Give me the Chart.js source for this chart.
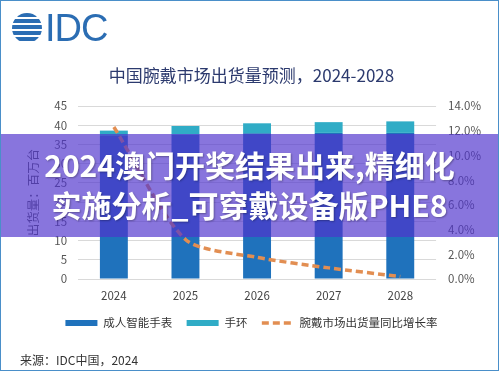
<!DOCTYPE html>
<html>
<head>
<meta charset="utf-8">
<script src="https://cdn.jsdelivr.net/npm/chart.js@4.4.1/dist/chart.umd.min.js"></script>
<style>
  html, body { margin: 0; padding: 0; background: #fff; }
  #wrap { position: relative; width: 499px; height: 371px; overflow: hidden; font-family: 'Noto Sans CJK SC', sans-serif; }
  #chartBox { position: absolute; left: 0; top: 0; width: 499px; height: 371px; }
  .globe { position: absolute; left: 12px; top: 13px; width: 30px; height: 30px; border-radius: 50%;
    background: repeating-linear-gradient(to bottom, #2b6db3 0px, #2b6db3 4px, #fff 4px, #fff 6px); }
  .idc { position: absolute; left: 45px; top: 9px; font: 38px/38px 'Liberation Sans', sans-serif; color: #2b6db3; letter-spacing: -1px; }
  .source { position: absolute; left: 20px; top: 351px; font-size: 12px; line-height: 18px; color: #333; }
  .band { position: absolute; left: 0; top: 134px; width: 499px; height: 103px; background: rgba(80, 52, 205, 0.68); }
  .band div { position: absolute; left: 0; width: 499px; text-align: center; color: #fff; font-weight: bold;
    font-size: 30px; line-height: 40px; text-shadow: 1px 1px 2px rgba(0,0,0,0.3); }
  .frame { position: absolute; left: 0; top: 0; width: 497px; height: 369px; border: 1px solid #4a8fc9; }
</style>
</head>
<body>
<div id="wrap">
  <div id="chartBox"><canvas id="myChart"></canvas></div>
  <div class="globe"></div>
  <div class="idc">IDC</div>
  <div class="source">来源：IDC中国，2024</div>
  <div class="band">
    <div style="top: 10px;">2024澳门开奖结果出来,精细化</div>
    <div style="top: 50px;">实施分析_可穿戴设备版PHE8</div>
  </div>
  <div class="frame"></div>
</div>
<script>
// years on the x axis
var years = ['2024', '2025', '2026', '2027', '2028'];
// shipments, million units
var watchValues = [37.2, 37.6, 37.9, 38.0, 38.0];
var bandValues = [1.4, 2.2, 2.6, 2.8, 3.0];
// yoy growth, %
var growthRates = [12.3, 3.2, 1.75, 0.9, 0.2];

var fontFamily = "'Noto Sans CJK SC', sans-serif";
var lineColor = 'rgb(226,142,82)';

function createChart() {
    var ctx = document.getElementById('myChart').getContext('2d');
    var myChart = new Chart(ctx, {
        type: 'bar',
        data: {
            labels: years,
            datasets: [{
                label: '成人智能手表',
                data: watchValues,
                backgroundColor: 'rgb(31,114,188)',
                barPercentage: 0.39,
                categoryPercentage: 1,
                order: 0
            }, {
                label: '手环',
                data: bandValues,
                backgroundColor: 'rgb(48,172,198)',
                barPercentage: 0.39,
                categoryPercentage: 1,
                order: 0
            }, {
                type: 'line',
                label: '腕戴市场出货量同比增长率',
                data: growthRates,
                yAxisID: 'y1',
                borderColor: lineColor,
                borderWidth: 3.5,
                borderDash: [7, 4],
                pointRadius: 0,
                tension: 0.25,
                fill: false,
                order: -1
            }]
        },
        options: {
            responsive: true,
            maintainAspectRatio: false,
            animation: false,
            layout: { padding: { left: 10, right: 6, top: 0, bottom: 32.25 } },
            plugins: {
                tooltip: { enabled: false },
                title: {
                    display: true,
                    text: '中国腕戴市场出货量预测，2024-2028',
                    color: '#2c3a6e',
                    font: { family: fontFamily, size: 17, weight: 'normal' },
                    padding: { top: 65.3, bottom: 20.3 }
                },
                legend: {
                    position: 'bottom',
                    labels: {
                        usePointStyle: true,
                        pointStyleWidth: 32,
                        boxHeight: 6,
                        padding: 14.45,
                        color: '#333',
                        font: { family: fontFamily, size: 11.5 },
                        generateLabels: function (chart) {
                            var items = Chart.defaults.plugins.legend.labels.generateLabels(chart);
                            items.forEach(function (it) {
                                if (it.datasetIndex === 2) {
                                    it.pointStyle = 'line';
                                    it.lineDash = [7, 4];
                                    it.lineWidth = 3.5;
                                    it.strokeStyle = lineColor;
                                } else {
                                    it.pointStyle = 'rect';
                                    it.lineWidth = 0;
                                }
                            });
                            return items.sort(function (a, b) { return a.datasetIndex - b.datasetIndex; });
                        }
                    }
                }
            },
            scales: {
                x: {
                    stacked: true,
                    grid: { display: false, drawTicks: true, tickLength: 10 },
                    border: { display: false },
                    ticks: { color: '#444', padding: 0, font: { family: fontFamily, size: 11.5 } }
                },
                y: {
                    stacked: true,
                    min: 0,
                    max: 45,
                    grid: { color: '#d9d9d9', drawTicks: false },
                    border: { display: false },
                    ticks: { stepSize: 5, color: '#555', padding: 11, font: { family: fontFamily, size: 11.5 } },
                    title: {
                        display: true,
                        text: '出货量：百万台',
                        color: '#555',
                        font: { family: fontFamily, size: 12.5 },
                        padding: { top: 15.5, bottom: 2.8 }
                    }
                },
                y1: {
                    position: 'right',
                    min: 0,
                    max: 14,
                    grid: { display: false, drawTicks: false },
                    border: { display: false },
                    ticks: {
                        stepSize: 2,
                        color: '#555',
                        padding: 12,
                        font: { family: fontFamily, size: 11.5 },
                        callback: function (v) { return v.toFixed(1) + '%'; }
                    }
                }
            }
        }
    });
}

createChart();
</script>
</body>
</html>
